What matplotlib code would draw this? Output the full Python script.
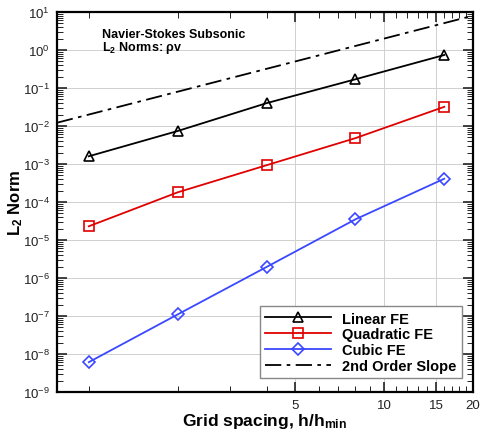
import numpy as np
import matplotlib
matplotlib.use("Agg")
import matplotlib.pyplot as plt
from matplotlib.ticker import FixedLocator, FixedFormatter, FuncFormatter, NullFormatter

plt.rcParams['font.family'] = ['Liberation Sans', 'DejaVu Sans']
plt.rcParams['mathtext.fontset'] = 'custom'
plt.rcParams['mathtext.rm'] = 'Liberation Sans'
plt.rcParams['mathtext.bf'] = 'Liberation Sans:bold'
plt.rcParams['mathtext.it'] = 'Liberation Sans:italic'

# data
h = [1, 2, 4, 8, 16]
linear_fe = [1.6e-3, 7.4e-3, 4.0e-2, 1.7e-1, 7.4e-1]
quadratic_fe = [2.3e-5, 1.8e-4, 9.3e-4, 4.8e-3, 3.2e-2]
cubic_fe = [6.1e-9, 1.1e-7, 1.95e-6, 3.5e-5, 4.1e-4]
slope_h = [0.78, 20]
slope_err = [0.0122, 8.0]

x_major = [5, 10, 15, 20]
x_labels = ['5', '10', '15', '20']
x_minor = [1, 2, 3, 4, 6, 7, 8, 9, 11, 12, 13, 14, 16, 17, 18, 19]
y_exp = list(range(-9, 2))

fig = plt.figure(figsize=(4.83, 4.35), dpi=100)
ax = fig.add_axes([0.118, 0.0966, 0.861, 0.8734])

ax.plot(h, linear_fe, color='black', lw=1.3, marker='^', ms=7, mfc='none', mew=1.2, label='Linear FE')
ax.plot(h, quadratic_fe, color='#e00000', lw=1.3, marker='s', ms=6.5, mfc='none', mew=1.2, label='Quadratic FE')
ax.plot(h, cubic_fe, color='#3a48ff', lw=1.3, marker='D', ms=6.5, mfc='none', mew=1.2, label='Cubic FE')
ax.plot(slope_h, slope_err, color='black', lw=1.3, ls=(0, (9, 3, 2, 3)), label='2nd Order Slope')

ax.set_xscale('log')
ax.set_yscale('log')
ax.set_xlim(0.78, 20)
ax.set_ylim(1e-9, 10)

ax.xaxis.set_major_locator(FixedLocator(x_major))
ax.xaxis.set_major_formatter(FixedFormatter(x_labels))
ax.xaxis.set_minor_locator(FixedLocator(x_minor))
ax.xaxis.set_minor_formatter(NullFormatter())

y_major = [10.0 ** e for e in y_exp]
y_minor = [m * 10.0 ** e for e in y_exp[:-1] for m in range(2, 10)]
ax.yaxis.set_major_locator(FixedLocator(y_major))
ax.yaxis.set_major_formatter(FuncFormatter(lambda v, p: r'$\mathregular{10^{%d}}$' % int(round(np.log10(v)))))
ax.yaxis.set_minor_locator(FixedLocator(y_minor))
ax.yaxis.set_minor_formatter(NullFormatter())

ax.tick_params(which='both', direction='in', top=True, right=True)
ax.tick_params(which='major', length=7, width=1.2, labelsize=9.5, colors='#222222')
ax.tick_params(axis='y', which='major', labelsize=9.5, pad=5)
ax.tick_params(axis='x', which='major', pad=5)
ax.tick_params(which='minor', length=4, width=0.6)
ax.grid(True, which='major', color='#d0d0d0', lw=0.7)
for s in ax.spines.values():
    s.set_linewidth(1.6)

ax.set_xlabel(r'Grid spacing, h/h$_{\mathbf{min}}$', fontsize=12.5, fontweight='bold')
ax.xaxis.set_label_coords(0.5, -0.05)
ax.set_ylabel(r'L$_{\mathbf{2}}$ Norm', fontsize=12, fontweight='bold')
ax.yaxis.set_label_coords(-0.078, 0.5)

ax.text(0.108, 0.935, 'Navier-Stokes Subsonic', transform=ax.transAxes, fontsize=9, fontweight='bold')
ax.text(0.108, 0.900, r'L$_{\mathbf{2}}$ Norms: ρv', transform=ax.transAxes, fontsize=9, fontweight='bold')

leg = ax.legend(loc='lower right', bbox_to_anchor=(0.9736, 0.037), prop={'weight': 'bold', 'size': 10.5},
                frameon=True, fancybox=False, edgecolor='#888888', framealpha=1, handlelength=4.5,
                labelspacing=0.12, borderpad=0.35, handletextpad=0.8, borderaxespad=0)
leg.get_frame().set_linewidth(1.0)

fig.savefig('out.png', dpi=100)
